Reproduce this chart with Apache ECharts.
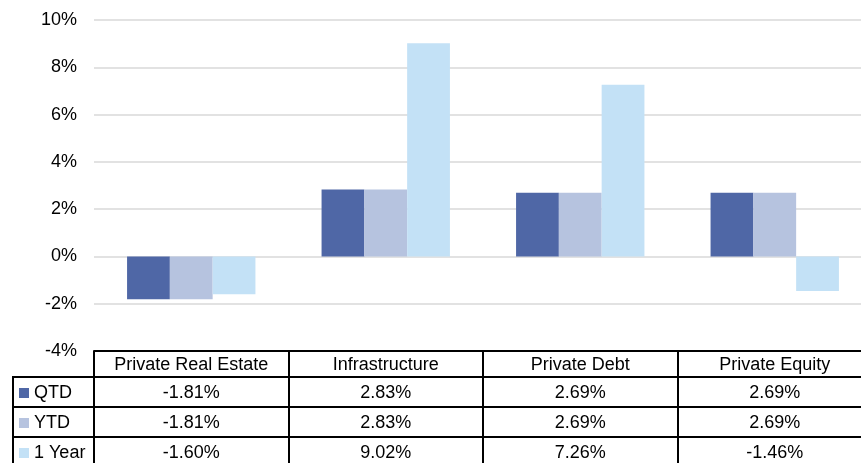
<!DOCTYPE html>
<html>
<head>
<meta charset="utf-8">
<script src="https://cdn.jsdelivr.net/npm/echarts@6/dist/echarts.min.js"></script>
<style>
  html, body { margin: 0; padding: 0; background: #fff; }
  #chart { width: 861px; height: 463px; }
</style>
</head>
<body>
<div id="chart"></div>
<script>
// 数据
var categories = ["Private Real Estate", "Infrastructure", "Private Debt", "Private Equity"];
var seriesNames = ["QTD", "YTD", "1 Year"];
var qtd = [-1.81, 2.83, 2.69, 2.69];
var ytd = [-1.81, 2.83, 2.69, 2.69];
var oneYear = [-1.60, 9.02, 7.26, -1.46];
var yTicks = [-4, 10, 2]; // min, max, interval

var colors = ["#4f67a6", "#b6c3df", "#c3e1f6"];
var font = "'Liberation Sans', Arial, sans-serif";

// 表格尺寸（右侧超出画面一点）
var gridLeft = 94, gridTop = 20, gridBottom = 112, gridWidth = 778;
var headH = 26, rowH = 30, legendLeft = 13;
var tableTop = 463 - gridBottom;

function pct(v) {
  return v.toFixed(2) + "%";
}

// 表格行：表头 + 每个系列一行
function tableAxis(offset, tickLen, formatter) {
  return {
    type: "category",
    data: categories,
    position: "bottom",
    offset: offset,
    axisLine: { show: true, lineStyle: { color: "#000", width: 2 } },
    axisTick: { show: true, alignWithLabel: false, length: tickLen, lineStyle: { color: "#000", width: 2 } },
    axisLabel: {
      interval: 0,
      color: "#000",
      fontSize: 18,
      fontFamily: font,
      verticalAlign: "middle",
      margin: (offset === 0 ? headH : rowH) / 2 + 1,
      formatter: formatter
    },
    splitLine: { show: false }
  };
}

var rows = [qtd, ytd, oneYear];
var xAxes = [tableAxis(0, headH, function (v) { return v; })];
rows.forEach(function (row, i) {
  xAxes.push(tableAxis(headH + rowH * i, rowH, function (v, idx) { return pct(row[idx]); }));
});
// 柱子使用的主轴（不显示）
xAxes.unshift({
  type: "category",
  data: categories,
  show: false
});

var series = rows.map(function (d, i) {
  return {
    name: seriesNames[i],
    type: "bar",
    xAxisIndex: 0,
    data: d,
    barGap: "0%",
    barCategoryGap: "34%",
    itemStyle: { color: colors[i] },
    animation: false
  };
});

// 图例单元格的边框
var cellLines = [];
for (var i = 0; i < 3; i++) {
  var y = tableTop + headH + rowH * i;
  cellLines.push({
    type: "line",
    shape: { x1: legendLeft, y1: y, x2: gridLeft, y2: y },
    style: { stroke: "#000", lineWidth: 2 }
  });
}
cellLines.push({
  type: "line",
  shape: { x1: legendLeft, y1: tableTop + headH - 1, x2: legendLeft, y2: 470 },
  style: { stroke: "#000", lineWidth: 2 }
});

var option = {
  backgroundColor: "#fff",
  animation: false,
  textStyle: { fontFamily: font },
  grid: {
    left: gridLeft, width: gridWidth, top: gridTop, bottom: gridBottom,
    containLabel: false, outerBoundsMode: "none"
  },
  legend: {
    data: seriesNames,
    orient: "vertical",
    left: 19,
    top: tableTop + headH + 6,
    height: 120,
    padding: 0,
    itemWidth: 10,
    itemHeight: 10,
    itemGap: 10,
    icon: "rect",
    selectedMode: false,
    textStyle: { color: "#000", fontSize: 18, fontFamily: font, lineHeight: 20 }
  },
  xAxis: xAxes,
  yAxis: {
    type: "value",
    min: yTicks[0],
    max: yTicks[1],
    interval: yTicks[2],
    axisLine: { show: false },
    axisTick: { show: false },
    axisLabel: { formatter: "{value}%", color: "#000", fontSize: 18, fontFamily: font, margin: 17 },
    splitLine: { lineStyle: { color: "#d9d9d9", width: 1.5 } }
  },
  graphic: cellLines,
  series: series
};

var chart = echarts.init(document.getElementById("chart"));
chart.setOption(option);
</script>
</body>
</html>
